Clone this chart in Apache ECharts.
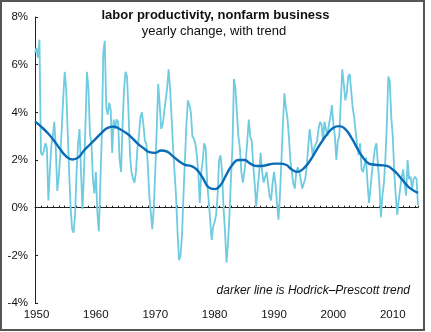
<!DOCTYPE html>
<html><head><meta charset="utf-8">
<script src="https://cdn.jsdelivr.net/npm/echarts@6/dist/echarts.min.js"></script>
<style>html,body{margin:0;padding:0;background:#fff}#c{width:431px;height:332px}</style>
</head><body><div id="c"></div>
<script>
// quarterly yearly-change values, first point = 1949 Q4
const startYear = 1949.75;
const quarterly = [
  6.5,
  6.7, 6.3, 7.05, 2.3,
  2.2, 2.4, 2.7, 2.5,
  0.3, 1.5, 2.6, 3.0,
  3.6, 2.5, 0.7, 1.3,
  2.2, 3.3, 4.6, 5.7,
  5.0, 3.2, 1.5, 0.0,
  -0.9, -1.05, -0.3, 1.5,
  2.7, 3.3, 1.5, -0.05,
  1.5, 3.5, 5.7, 5.0,
  3.1, 2.7, 1.2, 0.6,
  1.5, -0.2, -1.0, 1.0,
  3.0, 6.5, 7.0, 4.2,
  3.9, 4.4, 4.1, 2.3,
  3.7, 3.3, 3.7, 3.6,
  2.0, 1.5, 3.5, 5.0,
  5.7, 5.5, 4.0, 2.2,
  1.5, 1.2, 1.05, 1.5,
  2.5, 3.0, 3.8, 4.0,
  3.5, 2.8, 2.7, 1.8,
  0.5, -0.2, -0.9, 0.0,
  1.5, 3.3, 5.2, 4.3,
  3.3, 3.5, 4.0, 4.5,
  5.0, 5.8, 5.0, 3.8,
  2.5, 1.5, 0.5, -1.0,
  -2.2, -2.0, -1.2, 0.5,
  2.0, 3.5, 4.5, 4.3,
  4.0, 3.0, 2.9, 2.7,
  2.2, 1.5, 0.2, 1.5,
  2.0, 2.7, 2.5, 1.0,
  0.3, -0.5, -1.35, -0.8,
  -0.6, -0.3, 0.5, 2.0,
  2.2, 1.5, 0.0, -1.0,
  -2.3, -1.5, -0.3, 1.2,
  2.5, 5.4, 5.0, 4.0,
  3.0, 2.5, 1.5, 1.05,
  1.5, 2.0, 2.8, 3.7,
  3.0, 2.8, 1.8, 1.0,
  0.05, 0.8, 1.5, 2.3,
  1.5, 1.05, 1.3, 1.5,
  1.0, 0.5, 0.3, 1.0,
  1.5, 1.0, 0.2, -0.5,
  0.5, 2.0, 3.5, 4.8,
  4.2, 3.8, 3.0, 2.0,
  1.5, 1.0, 0.8, 1.5,
  1.7, 1.5, 1.2, 0.8,
  0.8, 1.2, 1.7, 2.5,
  3.3, 2.8, 2.2, 2.5,
  2.5, 2.8, 3.3, 3.6,
  3.5, 2.8, 3.6, 3.3,
  3.0, 3.5, 3.8, 4.3,
  3.5, 3.0, 2.0, 2.8,
  3.0, 4.5, 5.8, 5.2,
  4.5, 4.8, 5.5, 5.6,
  5.6, 4.2, 3.8, 3.2,
  2.6, 2.2, 2.7, 1.6,
  1.5, 1.8, 2.1, 1.0,
  0.2, 0.8, 1.5, 2.0,
  2.5, 2.7, 1.8, 1.0,
  -0.4, 0.5, 1.0, 2.0,
  3.5, 5.5, 5.3, 3.8,
  3.0, 1.5, 0.5, -0.3,
  0.3, 0.8, 1.3, 1.6,
  1.0, 0.5, 2.0, 1.2,
  1.3, 0.8, 1.2, 1.3,
  1.2, 0.1
];
// Hodrick-Prescott trend, read at these dates
const trendYears = [1949.75,1951,1952,1953,1954,1955,1956,1957,1958,1959,1960,1961,1962,1963,1964,1965,1966,1967,1968,1969,1970,1971,1972,1973,1974,1975,1976,1977,1978,1979,1980,1981,1982,1983,1984,1985,1986,1987,1988,1989,1990,1991,1992,1993,1994,1995,1996,1997,1998,1999,2000,2001,2002,2003,2004,2005,2006,2007,2008,2009,2010,2011,2012,2013,2014.25];
const trendValues = [3.62,3.35,3.1,2.8,2.45,2.15,2.02,2.1,2.4,2.65,2.9,3.15,3.35,3.4,3.3,3.15,2.95,2.7,2.5,2.33,2.3,2.4,2.35,2.15,1.95,1.8,1.75,1.6,1.25,0.85,0.78,0.95,1.4,1.8,2.0,2.0,1.85,1.75,1.75,1.8,1.85,1.85,1.8,1.6,1.5,1.65,1.95,2.35,2.75,3.1,3.35,3.42,3.3,2.95,2.5,2.1,1.85,1.8,1.78,1.75,1.6,1.35,1.05,0.8,0.62];
const yTicks = [-4,-2,0,2,4,6,8];
const xLabels = [1950,1960,1970,1980,1990,2000,2010];

const xMin = 1949.75, xMax = 2014.25;
const rawData = quarterly.map((v,i)=>[startYear + i*0.25, v]);
const trendData = trendYears.map((t,i)=>[t, trendValues[i]]);
const FONT = '"Liberation Sans", Arial, sans-serif';

const chart = echarts.init(document.getElementById('c'), null, {renderer:'canvas'});
chart.setOption({
  animation:false,
  backgroundColor:'#fff',
  grid:{left:35, right:13, top:17, bottom:29, containLabel:false},
  xAxis:[
    {type:'value', min:xMin, max:xMax, interval:1,
     axisLine:{onZero:true, lineStyle:{color:'#222', width:1}},
     axisTick:{show:true, inside:true, length:2, lineStyle:{color:'#222'}},
     axisLabel:{show:false}, splitLine:{show:false}},
    {type:'value', min:xMin, max:xMax, position:'bottom',
     axisLine:{show:false, onZero:false}, axisTick:{show:false}, splitLine:{show:false},
     axisLabel:{customValues:xLabels, formatter:v=>String(Math.round(v)), margin:6,
       fontFamily:FONT, fontSize:11.5, color:'#111'}}
  ],
  yAxis:{type:'value', min:-4, max:8, interval:2,
    axisLine:{show:true, lineStyle:{color:'#222'}},
    axisTick:{show:true, inside:true, length:3, lineStyle:{color:'#222'}},
    splitLine:{show:false},
    axisLabel:{formatter:'{value}%', margin:7, fontFamily:FONT, fontSize:11.5, color:'#111'}},
  series:[
    {type:'line', data:rawData, xAxisIndex:0, showSymbol:false, smooth:false,
     lineStyle:{color:'#6fcbe0', width:1.8}, z:2},
    {type:'line', data:trendData, xAxisIndex:0, showSymbol:false, smooth:0.5,
     lineStyle:{color:'#0b6bb7', width:2.4}, z:3}
  ],
  graphic:[
    {type:'rect', shape:{x:1, y:1, width:423, height:329}, style:{fill:'none', stroke:'#555', lineWidth:2}, z:10},
    {type:'text', left:'center', top:9, style:{text:'labor productivity, nonfarm business', font:'bold 13px '+FONT, fill:'#111'}, x:0},
    {type:'text', style:{text:'yearly change, with trend', x:214, y:31, align:'center', verticalAlign:'middle', font:'13px '+FONT, fill:'#111'}},
    {type:'text', style:{text:'darker line is Hodrick\u2013Prescott trend', x:410, y:291, align:'right', verticalAlign:'middle', font:'italic 12px '+FONT, fill:'#111'}}
  ]
});
</script></body></html>
